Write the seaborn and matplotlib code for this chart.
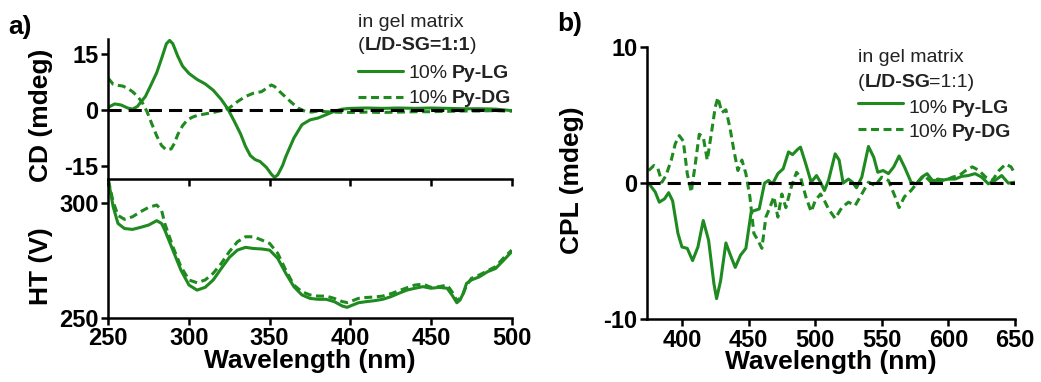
import pandas as pd
import seaborn as sns
import matplotlib.pyplot as plt
from matplotlib.lines import Line2D

# ---- panel a: CD (mdeg) ----
cd_lg_wl = [250, 254, 258, 262, 265, 268, 270, 273, 276, 280, 283, 286, 288, 290, 293, 296,
            300, 305, 310, 315, 320, 324, 328, 332, 335, 338, 341, 344, 348, 351, 353, 355,
            358, 360, 365, 370, 375, 380, 385, 390, 395, 400, 410, 420, 430, 440, 450, 460,
            470, 480, 490, 500]
cd_lg = [0.7, 1.6, 1.3, 0.5, 0.2, 0.9, 2.0, 3.6, 6.3, 10.0, 13.8, 17.8, 18.7, 17.8, 14.5, 11.8,
         9.8, 8.2, 7.0, 5.3, 2.8, 0.3, -3.0, -6.5, -9.8, -12.3, -13.4, -13.9, -15.5, -17.3, -18.2, -17.5,
         -15.0, -12.6, -7.6, -4.0, -2.7, -2.2, -1.3, -0.4, 0.2, 0.4, 0.5, 0.4, 0.5, 0.4, 0.5, 0.4,
         0.3, 0.3, 0.2, -0.2]

cd_dg_wl = [250, 253, 256, 259, 262, 265, 268, 271, 274, 277, 280, 283, 286, 289, 291, 293,
            296, 299, 302, 305, 310, 315, 320, 325, 330, 335, 340, 345, 348, 351, 353, 356,
            360, 364, 368, 372, 376, 380, 385, 390, 400, 410, 420, 430, 440, 450, 460, 470,
            480, 490, 500]
cd_dg = [8.5, 6.9, 6.6, 6.4, 5.8, 4.9, 3.7, 2.0, -0.5, -3.8, -7.0, -9.6, -10.8, -10.5, -9.0, -6.7,
         -4.3, -2.7, -2.0, -1.5, -1.1, -0.7, -0.2, 0.5, 2.2, 3.6, 4.5, 4.9, 5.8, 6.7, 6.3, 5.0,
         3.4, 1.8, 0.4, -0.4, -0.6, -0.3, -0.5, -0.6, -0.7, -0.6, -0.7, -0.6, -0.5, -0.5, -0.4, -0.3,
         -0.3, -0.2, -0.4]

# ---- panel a: HT (V) ----
ht_wl = [250, 253, 256, 260, 265, 270, 275, 280, 283, 285, 290, 295, 300, 305, 310, 315, 320,
         325, 330, 335, 340, 345, 350, 355, 360, 365, 370, 375, 380, 385, 390, 395, 398, 400,
         405, 410, 415, 420, 425, 430, 435, 440, 445, 450, 455, 460, 463, 466, 468, 470, 472,
         475, 480, 485, 490, 495, 500]
ht_lg = [309.9, 298.3, 291.0, 288.8, 288.4, 289.3, 290.3, 292.2, 291.0, 288.1, 279.4, 270.7, 264.2,
         262.0, 263.2, 266.4, 271.4, 276.2, 279.4, 280.6, 280.1, 279.9, 279.4, 275.8, 269.3, 263.5,
         259.9, 258.4, 258.0, 258.0, 257.0, 255.1, 254.5, 255.1, 256.5, 257.0, 257.4, 258.0, 259.1,
         260.6, 262.0, 262.8, 263.5, 262.8, 263.2, 262.8, 259.9, 256.5, 257.7, 260.6, 264.9, 266.4,
         267.8, 270.0, 271.4, 275.0, 278.7]
ht_dg = [309.9, 300.4, 294.5, 292.8, 293.9, 296.1, 298.0, 299.0, 296.8, 291.0, 280.9, 272.2, 266.4,
         265.2, 266.4, 269.3, 273.6, 278.7, 283.0, 285.2, 285.2, 283.8, 282.3, 278.0, 270.7, 264.2,
         261.3, 259.9, 259.4, 259.4, 258.4, 257.0, 256.6, 257.0, 258.4, 258.8, 259.0, 259.4, 260.4,
         261.7, 263.0, 264.2, 264.6, 263.2, 263.5, 264.2, 261.3, 257.4, 258.5, 260.6, 264.0, 267.1,
         268.6, 270.4, 272.2, 276.0, 279.4]

# ---- panel b: CPL (mdeg) ----
cpl_lg_wl = [375, 380, 383, 387, 390, 393, 397, 400, 404, 408, 412, 416, 420, 424, 426, 429, 433,
             436, 440, 444, 448, 452, 455, 458, 462, 465, 468, 472, 476, 480, 483, 487, 489, 493,
             497, 501, 504, 507, 510, 515, 518, 521, 525, 528, 531, 535, 540, 544, 547, 551, 555,
             559, 563, 567, 572, 576, 580, 584, 588, 595, 600, 605, 610, 615, 620, 625, 630, 635,
             640, 645, 650]
cpl_lg = [0.0, -0.66, -1.4, -1.15, -0.7, -1.3, -3.7, -4.7, -4.8, -5.7, -4.7, -2.75, -4.2, -7.4, -8.5,
          -7.2, -4.4, -5.2, -6.2, -5.3, -4.8, -2.1, -2.0, -1.9, 0.0, 0.2, -0.05, 0.7, 1.06, 2.3, 2.1,
          2.5, 2.65, 1.4, 0.07, 0.56, 0.07, -0.54, 0.2, 2.16, 1.7, 0.0, 0.3, 0.07, -0.34, 0.44, 2.7,
          1.9, 0.8, 0.93, 0.7, 1.2, 2.0, 1.2, 0.07, -0.05, 0.44, 0.7, 0.2, 0.2, 0.3, 0.3, 0.5, 0.56,
          0.7, 0.44, -0.05, 0.2, 0.56, 0.0, 0.07]

cpl_dg_wl = [375, 379, 382, 385, 388, 392, 395, 398, 401, 404, 407, 410, 413, 416, 419, 422, 425,
             427, 430, 433, 436, 439, 442, 445, 448, 451, 454, 457, 460, 463, 466, 469, 472, 475,
             478, 482, 486, 489, 493, 497, 500, 504, 507, 510, 515, 520, 525, 530, 535, 540, 545,
             550, 555, 560, 563, 567, 572, 577, 582, 587, 592, 598, 603, 608, 613, 618, 623, 628,
             633, 638, 643, 647, 650]
cpl_dg = [0.93, 1.3, 1.06, 0.07, 0.56, 1.7, 2.9, 3.5, 3.1, 0.7, -0.66, 1.4, 3.6, 3.4, 1.7, 3.6, 5.6,
          6.3, 5.2, 5.4, 4.1, 2.4, 0.93, 1.7, 0.7, -1.0, -3.7, -4.2, -4.8, -2.5, -1.8, -1.0, -2.5,
          -0.8, -1.8, -0.3, 0.8, 0.44, -1.0, -2.1, -1.3, -0.8, -1.3, -1.9, -2.6, -1.8, -1.4, -1.65,
          -0.8, 0.07, -0.17, 0.44, 0.2, -1.0, -1.8, -1.0, -0.54, 0.07, 0.56, 0.07, 0.3, 0.2, 0.44,
          0.56, 0.93, 1.2, 0.93, 0.44, 0.2, 0.93, 1.4, 1.2, 0.7]

GREEN = "#1f8a1f"
LW = 2.2
DASH = (0, (2.6, 1.5))
ZERO_DASH = (4.3, 2.3)
TICK_SIZE = 17
LABEL_SIZE = 19
KEY_SIZE = 14

sns.set_style("ticks")
plt.rcParams["font.family"] = ["Liberation Sans", "DejaVu Sans"]
plt.rcParams["font.weight"] = "bold"
plt.rcParams["axes.labelweight"] = "bold"
plt.rcParams["text.color"] = "black"
plt.rcParams["axes.labelcolor"] = "black"
plt.rcParams["axes.unicode_minus"] = False

W, H = 1041, 382
fig = plt.figure(figsize=(W / 100, H / 100), dpi=100)


def fx(px):
    return px / W


def fy(py):
    return 1 - py / H


def style_axis(ax):
    for side in ["top", "right"]:
        ax.spines[side].set_visible(False)
    for side in ["left", "bottom"]:
        ax.spines[side].set_linewidth(1.8)
        ax.spines[side].set_color("black")
    ax.tick_params(direction="out", length=5, width=1.8, labelsize=TICK_SIZE, pad=2,
                   colors="black")


ax_ht = fig.add_axes([fx(108.3), fy(317.7), fx(511.7) - fx(108.3), fy(179.3) - fy(317.7)])
ax_cd = fig.add_axes([fx(108.3), fy(179.3), fx(511.7) - fx(108.3), fy(39.3) - fy(179.3)])
ax_cpl = fig.add_axes([fx(647.3), fy(319), fx(1015) - fx(647.3), fy(47.3) - fy(319)])
for ax in (ax_cd, ax_ht, ax_cpl):
    ax.patch.set_visible(False)
ax_cd.set_zorder(3)

# CD
ax_cd.axhline(0, color="black", lw=LW, dashes=ZERO_DASH, zorder=3)
sns.lineplot(x=cd_lg_wl, y=cd_lg, color=GREEN, lw=LW, ax=ax_cd)
sns.lineplot(x=cd_dg_wl, y=cd_dg, color=GREEN, lw=LW, linestyle=DASH, ax=ax_cd)
ax_cd.set_xlim(250, 500)
ax_cd.set_ylim(-18.7, 19)
ax_cd.set_xticks([250, 300, 350, 400, 450, 500])
ax_cd.set_yticks([-15, 0, 15])
style_axis(ax_cd)
ax_cd.tick_params(axis="x", labelbottom=False)
ax_cd.set_xlabel("")
ax_cd.set_ylabel("")

# HT
sns.lineplot(x=ht_wl, y=ht_lg, color=GREEN, lw=LW, ax=ax_ht)
sns.lineplot(x=ht_wl, y=ht_dg, color=GREEN, lw=LW, linestyle=DASH, ax=ax_ht)
ax_ht.set_xlim(250, 500)
ax_ht.set_ylim(250, 310.2)
ax_ht.set_xticks([250, 300, 350, 400, 450, 500])
ax_ht.set_yticks([250, 300])
style_axis(ax_ht)
ax_ht.set_xlabel("Wavelength (nm)", fontsize=LABEL_SIZE, labelpad=-1)
ax_ht.set_ylabel("")

# CPL
ax_cpl.axhline(0, color="black", lw=LW, dashes=ZERO_DASH, zorder=3)
sns.lineplot(x=cpl_lg_wl, y=cpl_lg, color=GREEN, lw=LW, ax=ax_cpl)
sns.lineplot(x=cpl_dg_wl, y=cpl_dg, color=GREEN, lw=LW, linestyle=DASH, ax=ax_cpl)
ax_cpl.set_xlim(374, 650)
ax_cpl.set_ylim(-10, 10)
ax_cpl.set_xticks([400, 450, 500, 550, 600, 650])
ax_cpl.set_yticks([-10, 0, 10])
style_axis(ax_cpl)
ax_cpl.set_xlabel("Wavelength (nm)", fontsize=LABEL_SIZE, labelpad=-1)
ax_cpl.set_ylabel("")

# y labels and panel letters
fig.text(fx(41), fy(115), "CD (mdeg)", rotation=90, ha="center", va="center", fontsize=LABEL_SIZE)
fig.text(fx(41), fy(266), "HT (V)", rotation=90, ha="center", va="center", fontsize=LABEL_SIZE)
fig.text(fx(572), fy(180), "CPL (mdeg)", rotation=90, ha="center", va="center", fontsize=LABEL_SIZE)
fig.text(fx(8), fy(34), "a)", fontsize=19, va="baseline")
fig.text(fx(557), fy(31), "b)", fontsize=19, va="baseline")

TXT = "#222222"


def rich_text(ax, x, y, parts, size=KEY_SIZE):
    t = fig.text(fx(x), fy(y), parts[0][0], fontsize=size, fontweight=parts[0][1],
                 color=TXT, va="baseline", ha="left")
    for s, w, dx in parts[1:]:
        t = ax.annotate(s, xy=(1, 0), xycoords=t, xytext=(dx, 0), textcoords="offset points",
                        va="bottom", ha="left", fontsize=size, fontweight=w, color=TXT)
    return t


def add_key(ax, x0, y_title, y_cond, y_lg, y_dg, cond_parts):
    rich_text(ax, x0, y_title, [("in gel matrix", "normal")])
    rich_text(ax, x0, y_cond, cond_parts)
    fig.add_artist(Line2D([fx(x0), fx(x0 + 45)], [fy(y_lg[0]), fy(y_lg[0])],
                          color=GREEN, lw=LW, transform=fig.transFigure))
    fig.add_artist(Line2D([fx(x0), fx(x0 + 45)], [fy(y_dg[0]), fy(y_dg[0])],
                          color=GREEN, lw=LW, linestyle=DASH, transform=fig.transFigure))
    rich_text(ax, x0 + 50, y_lg[1], [("10%", "normal"), ("Py-LG", "bold", 3.5)])
    rich_text(ax, x0 + 50, y_dg[1], [("10%", "normal"), ("Py-DG", "bold", 3.5)])


add_key(ax_cd, 358, 27, 50, (71, 78), (97, 103),
        [("(", "normal"), ("L/D-SG=1:1", "bold", 0), (")", "normal", 0)])
add_key(ax_cpl, 858, 62, 87, (103, 113), (129, 137),
        [("(", "normal"), ("L/D-SG", "bold", 0), ("=1:1)", "normal", -1.5)])

fig.savefig("out.png", dpi=100)
